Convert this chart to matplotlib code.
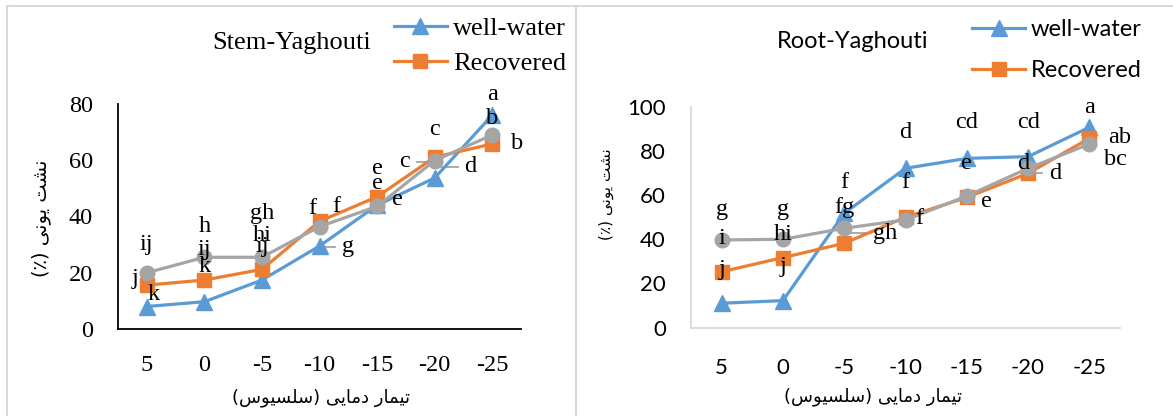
import matplotlib
matplotlib.use("Agg")
import matplotlib.pyplot as plt
from matplotlib.lines import Line2D

# x categories: temperature treatment (Celsius)
TEMPS = ["5", "0", "-5", "-10", "-15", "-20", "-25"]

# Stem-Yaghouti, ion leakage (%)
STEM_WELL = [8.0, 9.7, 17.4, 29.5, 44.0, 53.7, 76.0]
STEM_RECOV = [15.6, 17.4, 21.2, 38.3, 47.0, 61.1, 65.8]
STEM_GRAY = [20.0, 25.5, 25.5, 36.4, 43.6, 59.9, 69.0]
STEM_WELL_LET = ["k", "k", "ij", "g", "e", "d", "a"]
STEM_RECOV_LET = ["j", "ij", "hi", "f", "e", "c", "b"]
STEM_GRAY_LET = ["ij", "h", "gh", "f", "e", "c", "b"]

# Root-Yaghouti, ion leakage (%)
ROOT_WELL = [11.0, 12.2, 51.8, 72.2, 76.7, 77.5, 90.8]
ROOT_RECOV = [25.3, 31.7, 38.2, 50.0, 59.0, 69.9, 85.8]
ROOT_GRAY = [39.7, 40.0, 45.0, 48.8, 59.6, 72.2, 83.2]
ROOT_WELL_LET = ["j", "j", "f", "d", "cd", "cd", "a"]
ROOT_RECOV_LET = ["i", "hi", "gh", "f", "e", "d", "ab"]
ROOT_GRAY_LET = ["g", "g", "fg", "f", "e", "d", "bc"]

SERIES_NAMES = ["well-water", "Recovered", ""]
XLABEL = "تیمار دمایی (سلسیوس)"
YLABEL = "نشت یونی (٪)"

# label offsets (dx in category units, dy in data units) -- layout only
STEM_OFFS = [
    [(0.11, 4.1), (0, 12.5), (0, 11.9), (0.49, -0.2), (0.36, 1.9), (0.62, 4.0), (0, 7.2)],
    [(-0.2, 2.4), (0, 10.7), (0, 12.2), (-0.12, 4.6), (0, 10.1), (0, 9.7), (0.44, 0.2)],
    [(0, 9.9), (0, 10.9), (0, 15.6), (0.3, 7.1), (0, 8.2), (-0.53, -0.4), (0, 5.9)],
]
ROOT_OFFS = [
    [(0, 15.1), (0, 15.4), (0, 13.9), (0, 16.1), (0, 16.2), (0, 15.4), (0, 9.1)],
    [(0, 15.1), (0, 10.3), (0.66, 4.5), (0.22, -0.5), (0.32, -1.9), (0.45, 0.0), (0.5, 0.5)],
    [(0, 13.6), (0, 13.6), (0, 9.5), (0, 16.9), (0, 14.9), (-0.08, 2.3), (0.42, -6.9)],
]
STEM_LEADERS = {(0, 3), (0, 5), (2, 5)}
ROOT_LEADERS = {(1, 2), (1, 5)}

BLUE = "#5B9BD5"
ORANGE = "#ED7D31"
GRAY = "#A5A5A5"
BORDER = "#D9D9D9"

# Arabic presentation forms (isolated, final, initial, medial)
AR_FORMS = {
    "\u062A": "\uFE95\uFE96\uFE97\uFE98",
    "\u06CC": "\uFEEF\uFEF0\uFEF3\uFEF4",
    "\u064A": "\uFEEF\uFEF0\uFEF3\uFEF4",
    "\u0645": "\uFEE1\uFEE2\uFEE3\uFEE4",
    "\u0627": "\uFE8D\uFE8E",
    "\u0631": "\uFEAD\uFEAE",
    "\u062F": "\uFEA9\uFEAA",
    "\u0633": "\uFEB1\uFEB2\uFEB3\uFEB4",
    "\u0644": "\uFEDD\uFEDE\uFEDF\uFEE0",
    "\u0648": "\uFEED\uFEEE",
    "\u0646": "\uFEE5\uFEE6\uFEE7\uFEE8",
    "\u0634": "\uFEB5\uFEB6\uFEB7\uFEB8",
}


def shape_rtl(text):
    # join letters and put them in visual (left to right) order
    out = []
    for i, ch in enumerate(text):
        forms = AR_FORMS.get(ch)
        if forms is None:
            out.append(ch)
            continue
        prev = text[i - 1] if i > 0 else ""
        nxt = text[i + 1] if i + 1 < len(text) else ""
        join_prev = len(AR_FORMS.get(prev, "")) == 4
        join_next = len(forms) == 4 and nxt in AR_FORMS
        if join_prev and join_next:
            out.append(forms[3])
        elif join_prev:
            out.append(forms[1])
        elif join_next:
            out.append(forms[2])
        else:
            out.append(forms[0])
    vis = "".join(reversed(out))
    return vis.translate(str.maketrans("()", ")("))


W, H = 1173, 416


def fx(px):
    return px / W


def fy(py):
    return 1 - py / H


def draw_panel(ax, series, letters, offs, leaders, ylim, yticks, tick_font,
               spine_color):
    x = list(range(len(TEMPS)))
    styles = [(BLUE, "^", 11.5), (ORANGE, "s", 10), (GRAY, "o", 10.5)]
    handles = []
    for vals, (col, mk, ms), name in zip(series, styles, SERIES_NAMES):
        h, = ax.plot(x, vals, color=col, marker=mk, markersize=ms, lw=2.3,
                     label=name, zorder=3)
        handles.append(h)
    # letter labels
    for s, (vals, lets) in enumerate(zip(series, letters)):
        for i, (v, t) in enumerate(zip(vals, lets)):
            dx, dy = offs[s][i]
            ax.text(i + dx, v + dy, t, ha="center", va="center",
                    family="Liberation Serif", fontsize=17.5, zorder=5)
            if (s, i) in leaders:
                sgn = 1 if dx > 0 else -1
                ax.plot([i + sgn * 0.03, i + dx - sgn * 0.22], [v + dy, v + dy],
                        color=GRAY, lw=1.3, zorder=2)
    ax.set_xlim(-0.5, 6.5)
    ax.set_ylim(*ylim)
    ax.set_xticks(x)
    ax.set_xticklabels(TEMPS)
    ax.set_yticks(yticks)
    for sp in ["top", "right"]:
        ax.spines[sp].set_visible(False)
    for sp in ["left", "bottom"]:
        ax.spines[sp].set_color(spine_color)
        ax.spines[sp].set_linewidth(1.3)
    ax.tick_params(length=0, labelsize=tick_font["size"])
    ax.tick_params(axis="y", pad=18)
    ax.tick_params(axis="x", pad=19)
    for lab in ax.get_xticklabels() + ax.get_yticklabels():
        lab.set_family(tick_font["family"])
    ax.set_facecolor("none")
    return handles


fig = plt.figure(figsize=(W / 100, H / 100), dpi=100)

# chart borders
fig.add_artist(Line2D([fx(7), fx(7)], [fy(6), 0], color=BORDER, lw=1.5))
fig.add_artist(Line2D([fx(7), 1], [fy(6), fy(6)], color=BORDER, lw=1.5))
fig.add_artist(Line2D([fx(576), fx(576)], [fy(6), 0], color=BORDER, lw=1.5))

# left panel: Stem
ax1 = fig.add_axes([fx(118), fy(329), fx(521 - 118), (329 - 104) / H])
h1 = draw_panel(ax1, [STEM_WELL, STEM_RECOV, STEM_GRAY],
                [STEM_WELL_LET, STEM_RECOV_LET, STEM_GRAY_LET],
                STEM_OFFS, STEM_LEADERS, (0, 80), [0, 20, 40, 60, 80],
                {"family": "Liberation Serif", "size": 17.5}, "black")
fig.text(fx(292), fy(43), "Stem-Yaghouti", ha="center", va="center",
         family="Liberation Serif", fontsize=19)
fig.legend(handles=h1[:2], loc="upper left",
           bbox_to_anchor=(fx(394), fy(17)), frameon=False, borderpad=0,
           borderaxespad=0, handlelength=2.0, handletextpad=0.25,
           labelspacing=0.42, prop={"family": "Liberation Serif", "size": 19})
fig.text(fx(321), fy(398), shape_rtl(XLABEL), ha="center", va="center",
         family="DejaVu Sans", fontsize=13)
fig.text(fx(41), fy(218), shape_rtl(YLABEL), ha="center", va="center",
         rotation=90, family="DejaVu Sans", fontsize=14)

# right panel: Root
ax2 = fig.add_axes([fx(691), fy(327.5), fx(1120 - 691), (327.5 - 107) / H])
h2 = draw_panel(ax2, [ROOT_WELL, ROOT_RECOV, ROOT_GRAY],
                [ROOT_WELL_LET, ROOT_RECOV_LET, ROOT_GRAY_LET],
                ROOT_OFFS, ROOT_LEADERS, (0, 100), [0, 20, 40, 60, 80, 100],
                {"family": "Lato", "size": 16}, BORDER)
ax2.tick_params(axis="x", pad=22)
fig.text(fx(853), fy(41), "Root-Yaghouti", ha="center", va="center",
         family="Lato", fontsize=17)
fig.legend(handles=h2[:2], loc="upper left",
           bbox_to_anchor=(fx(972), fy(19)), frameon=False, borderpad=0,
           borderaxespad=0, handlelength=2.25, handletextpad=0.25,
           labelspacing=0.85, prop={"family": "Lato", "size": 17})
fig.text(fx(873), fy(397), shape_rtl(XLABEL), ha="center", va="center",
         family="DejaVu Sans", fontsize=13)
fig.text(fx(606), fy(194), shape_rtl(YLABEL), ha="center", va="center",
         rotation=90, family="DejaVu Sans", fontsize=11)

fig.savefig("out.png", dpi=100)
